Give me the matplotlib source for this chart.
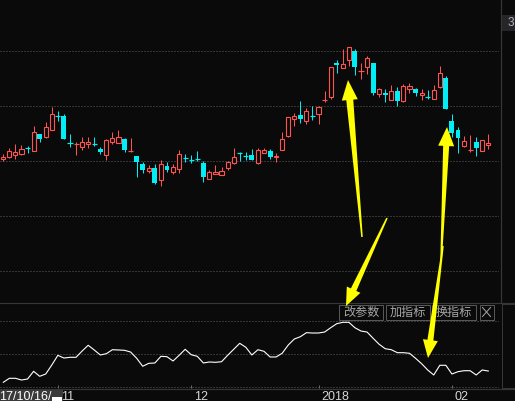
import matplotlib
matplotlib.use('Agg')
import matplotlib.pyplot as plt
from matplotlib.patches import Rectangle, Polygon
import numpy as np

# ---------------- data ----------------
opens = [16.26, 16.40, 16.66, 16.70, 17.36, 17.06, 18.70, 18.46, 19.10, 20.56,
         20.53, 17.86, 17.70, 17.46, 17.70, 17.80, 17.23, 16.60, 17.96, 17.86,
         18.23, 17.00, 16.53, 15.73, 15.06, 15.33, 14.10, 15.53, 14.90, 15.20,
         16.36, 16.13, 16.26, 15.83, 14.26, 14.76, 14.66, 15.36, 15.83, 16.86,
         16.53, 16.63, 15.86, 16.86, 17.03, 16.40, 17.16, 18.56, 20.20, 20.60,
         20.06, 20.60, 20.76, 22.06, 22.46, 25.86, 25.36, 26.16, 27.03, 25.00,
         25.46, 25.83, 22.70, 22.80, 22.16, 23.03, 22.06, 23.20, 23.20, 22.60,
         22.53, 22.26, 23.46, 24.33, 20.00, 19.13, 17.56, 17.06, 17.93, 17.06,
         17.66]
highs = [16.73, 17.30, 17.73, 17.63, 17.56, 19.53, 18.70, 19.93, 21.40, 21.03,
         20.73, 18.73, 17.93, 18.43, 18.43, 18.43, 17.43, 18.26, 18.93, 19.13,
         18.33, 18.33, 16.53, 15.90, 15.60, 15.73, 16.13, 15.90, 15.73, 17.10,
         16.73, 16.63, 17.03, 16.03, 15.13, 15.63, 15.40, 16.06, 17.33, 16.96,
         16.93, 17.23, 17.36, 17.30, 17.23, 16.80, 18.93, 20.40, 20.80, 22.03,
         21.30, 21.50, 21.50, 23.03, 25.40, 26.10, 27.20, 27.40, 27.20, 25.80,
         26.53, 25.83, 23.33, 23.20, 23.63, 23.40, 23.73, 23.83, 23.33, 23.23,
         23.13, 23.60, 25.53, 24.53, 20.73, 19.46, 18.53, 18.63, 18.43, 18.10,
         18.73]
lows = [16.06, 16.30, 16.20, 16.63, 16.80, 17.03, 17.96, 18.30, 19.10, 20.06,
        18.26, 17.46, 16.66, 17.16, 17.36, 17.53, 16.76, 16.16, 17.76, 17.86,
        16.96, 16.98, 14.46, 14.86, 14.80, 13.76, 13.56, 14.96, 14.76, 14.86,
        15.96, 15.83, 16.03, 13.93, 14.23, 14.76, 14.66, 15.13, 15.76, 16.03,
        16.16, 16.10, 15.76, 16.80, 16.26, 15.96, 17.16, 18.46, 19.56, 19.83,
        19.76, 20.16, 19.76, 21.90, 22.26, 24.86, 25.36, 25.56, 24.66, 24.26,
        24.76, 22.60, 22.40, 21.96, 22.16, 21.53, 21.96, 22.80, 22.56, 22.13,
        22.20, 22.26, 23.36, 21.26, 18.40, 16.86, 17.46, 16.96, 16.56, 17.06,
        17.26]
closes = [16.46, 17.00, 16.90, 17.23, 17.30, 18.90, 18.26, 19.43, 20.70, 20.50,
          18.26, 17.80, 17.80, 17.90, 17.93, 17.73, 16.93, 18.10, 18.30, 18.43,
          17.16, 17.03, 15.96, 15.16, 15.33, 13.86, 15.70, 15.16, 15.43, 16.70,
          16.30, 16.06, 16.20, 14.46, 14.93, 14.93, 15.00, 15.90, 16.43, 16.80,
          16.46, 16.16, 17.10, 17.10, 16.46, 16.56, 18.20, 20.40, 20.53, 20.26,
          21.00, 20.50, 21.40, 22.16, 25.40, 25.60, 25.70, 27.40, 25.46, 25.13,
          26.30, 22.86, 23.23, 22.60, 23.00, 22.06, 23.50, 23.53, 22.86, 22.80,
          22.40, 23.13, 24.80, 21.26, 18.86, 18.36, 18.03, 17.20, 17.36, 18.10,
          17.83]
indicator = [7.1, 13.2, 13.2, 10.6, 12.1, 23.8, 16.2, 19.7, 33.3, 48.0,
             43.9, 45.0, 45.0, 54.5, 63.2, 56.1, 48.5, 50.5, 56.5, 56.1,
             55.6, 53.0, 43.5, 31.4, 35.9, 36.4, 46.5, 45.9, 39.4, 48.0,
             57.1, 48.9, 46.5, 36.4, 37.9, 37.4, 38.3, 48.0, 57.1, 66.2,
             60.2, 48.5, 56.5, 54.1, 45.5, 45.5, 51.1, 63.6, 72.7, 76.2,
             82.3, 81.8, 81.8, 83.3, 89.8, 95.9, 98.0, 98.0, 89.8, 84.8,
             83.3, 73.8, 64.7, 58.0, 56.5, 52.0, 52.0, 51.1, 43.5, 35.3,
             25.8, 18.2, 32.9, 32.9, 19.7, 23.2, 24.7, 24.7, 18.2, 25.8,
             24.2]
month_ticks = [9, 31, 52, 74]
month_labels = ['11', '12', '2018', '02']
price_grid = [27.0, 21.5, 16.0, 10.5, 5.0]
ind_grid = [0, 50, 100]
start_label = '17/10/16/'
button_labels = ['改参数', '加指标', '换指标']
price_tag = '3'

# ---------------- style ----------------
BG = '#0a0a0a'
UP = '#ff5252'
DOWN = '#00eef5'
GRID = '#5e5e5e'
LINE = '#363636'
W, H = 515, 401
PX = 0.72  # 1 pixel in points

fig = plt.figure(figsize=(W / 100, H / 100), dpi=100, facecolor=BG)

xl = (-3.3 / 6.0625, (499 - 3.3) / 6.0625)

# main candle panel (pixel rows 0..301)
ax = fig.add_axes([0, 100 / H, 499 / W, 301 / H])
ax.set_facecolor(BG)
ax.set_xlim(*xl)
ax.set_ylim(32.13 - 301 / 10, 32.13)
for s in ax.spines.values():
    s.set_visible(False)
ax.set_yticks(price_grid)
ax.set_xticks([])
ax.tick_params(axis='y', length=0, labelleft=False)
ax.grid(axis='y', color=GRID, linewidth=PX, linestyle=(0, (1, 2)))
ax.set_axisbelow(True)

for i, (o, h, l, c) in enumerate(zip(opens, highs, lows, closes)):
    up = c >= o
    col = UP if up else DOWN
    top, bot = max(o, c), min(o, c)
    if top - bot < 0.15:
        mid = (o + c) / 2
        ax.vlines(i, l, h, color=col, linewidth=PX, zorder=3)
        ax.hlines(mid, i - 0.42, i + 0.42, color=col, linewidth=1.2 * PX, zorder=3)
        continue
    if up:
        ax.vlines(i, top, h, color=col, linewidth=PX, zorder=3)
        ax.vlines(i, l, bot, color=col, linewidth=PX, zorder=3)
        ax.add_patch(Rectangle((i - 0.34, bot), 0.68, top - bot, facecolor=BG,
                               edgecolor=col, linewidth=PX * 1.1, zorder=4))
    else:
        ax.vlines(i, l, h, color=col, linewidth=PX, zorder=3)
        ax.add_patch(Rectangle((i - 0.41, bot), 0.82, top - bot, facecolor=col,
                               edgecolor='none', zorder=4))

# indicator panel (pixel rows 302..388)
axi = fig.add_axes([0, 13 / H, 499 / W, 86 / H])
axi.set_facecolor(BG)
axi.set_xlim(*xl)
axi.set_ylim(-1.515, 128.79)
for s in axi.spines.values():
    s.set_visible(False)
axi.set_yticks(ind_grid)
axi.tick_params(axis='y', length=0, labelleft=False)
axi.grid(axis='y', color=GRID, linewidth=PX, linestyle=(0, (1, 2)))
axi.set_axisbelow(True)
axi.plot(range(len(indicator)), indicator, color='white', linewidth=0.8, zorder=3)
axi.set_xticks(month_ticks)
axi.set_xticklabels([''] * len(month_ticks))
axi.tick_params(axis='x', direction='in', length=2, color='#6a6a6a', width=PX)
for t, lab in zip(month_ticks, month_labels):
    axi.annotate(lab, xy=(t, 0), xycoords=('data', 'axes fraction'),
                 xytext=(3, -2.5), textcoords='offset pixels', ha='left', va='top',
                 fontsize=9, color='#d6d6d6', family='Liberation Sans',
                 annotation_clip=False)

# overlay in pixel coordinates for frame, buttons and arrows
ov = fig.add_axes([0, 0, 1, 1], zorder=10)
ov.set_xlim(0, W)
ov.set_ylim(H, 0)
ov.axis('off')
ov.patch.set_visible(False)

ov.plot([500.5, 500.5], [0, 302], color=LINE, lw=PX * 1.2)
ov.plot([0, W], [302.5, 302.5], color=LINE, lw=PX * 1.2)
ov.plot([0, W], [388.5, 388.5], color=LINE, lw=PX * 1.2)
ov.add_patch(Rectangle((501.5, 303.5), 20, 84, facecolor='none', edgecolor=LINE, lw=PX))

# price tag at top right
ov.add_patch(Rectangle((501, 15), 20, 16, facecolor='#262626', edgecolor='none'))
ov.text(507.5, 23.5, price_tag, ha='left', va='center', fontsize=8.5, color='#a9b4c4',
        family='Liberation Sans')

# start date box
ov.add_patch(Rectangle((0, 389), 63, 13, facecolor='#3a3a3a', edgecolor='none'))
ov.text(-0.5, 396.5, start_label, ha='left', va='center', fontsize=9, color='white',
        family='Liberation Sans')
ov.add_patch(Rectangle((52, 396.5), 9.5, 5, facecolor='white', edgecolor='none'))

# buttons
bx = [338.5, 385.5, 431.5]
for x0, lab in zip(bx, button_labels):
    ov.add_patch(Rectangle((x0, 304.5), 44.5, 15, facecolor=BG, edgecolor='#575757', lw=PX))
    ov.text(x0 + 22.5, 312.3, lab, ha='center', va='center', fontsize=8.7,
            color='#a6a6a6', family=['Noto Sans CJK SC', 'DejaVu Sans'])
ov.add_patch(Rectangle((479.5, 304.5), 14, 15, facecolor=BG, edgecolor='#575757', lw=PX))
ov.plot([482.5, 490.5], [307.5, 316.5], color='#a6a6a6', lw=PX)
ov.plot([482.5, 490.5], [316.5, 307.5], color='#a6a6a6', lw=PX)


def tapered_arrow(tail, tip, w_tail, w_neck, head_w, head_len):
    t = np.array(tail, float)
    p = np.array(tip, float)
    d = p - t
    u = d / np.hypot(*d)
    n = np.array([-u[1], u[0]])
    neck = p - u * head_len
    pts = [t + n * w_tail / 2, neck + n * w_neck / 2, neck + n * head_w / 2, p,
           neck - n * head_w / 2, neck - n * w_neck / 2, t - n * w_tail / 2]
    ov.add_patch(Polygon(pts, closed=True, facecolor='#ffff00', edgecolor='none', zorder=20))


tapered_arrow((362, 237), (348, 80), 1.5, 7, 16, 20)
tapered_arrow((387, 218), (346, 306), 1.5, 6, 15, 18)
tapered_arrow((441, 262), (447, 127), 1.5, 6, 16, 19)
tapered_arrow((443, 246), (428, 358), 1.5, 6, 15, 18)

fig.savefig('out.png', dpi=100, facecolor=BG)
